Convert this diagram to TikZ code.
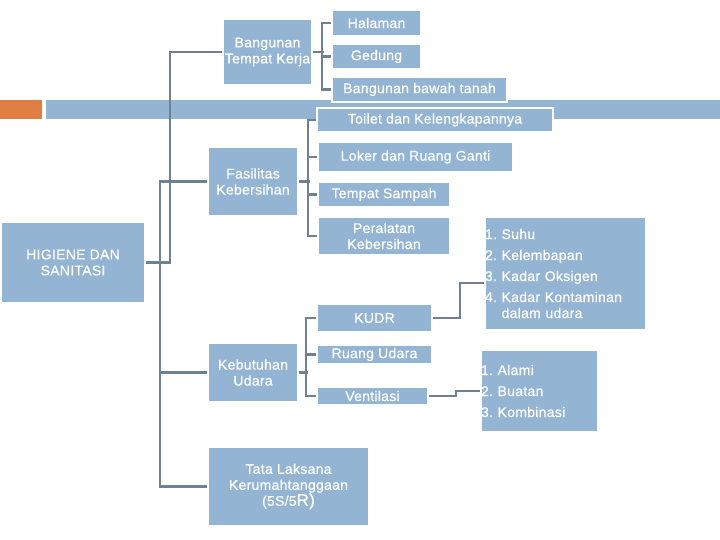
\documentclass[tikz,border=0pt]{standalone}
\usepackage{fontspec}
\setmainfont{Liberation Sans}[LetterSpace=2.0,FakeBold=0.6]
\usetikzlibrary{calc}
\definecolor{boxblue}{HTML}{94B4D4}
\definecolor{linegray}{HTML}{6F8093}
\definecolor{accentorange}{HTML}{DE7E42}
\tikzset{
  bx/.style={rectangle, fill=boxblue, draw=white, line width=1.5pt, text=white,
    inner sep=0pt, align=center, font=\fontsize{14}{16}\selectfont},
  conn/.style={draw=linegray, line width=2.4pt},
}
\frenchspacing
\begin{document}
\begin{tikzpicture}[x=1pt,y=-1pt]
\useasboundingbox (0,0) rectangle (720,540);
% header band
\fill[accentorange] (0,100) rectangle (42,119);
\fill[boxblue] (46,100) rectangle (720,119);
% nodes
\node[bx, minimum width=89, minimum height=26] (hal) at (376.5,23) {Halaman};
\node[bx, minimum width=89, minimum height=25] (ged) at (376.5,56.5) {Gedung};
\node[bx, minimum width=175, minimum height=25] (bwt) at (419.5,89.5) {Bangunan bawah tanah};
\node[bx, minimum width=89, minimum height=66] (btk) at (267.5,52) {Bangunan\\Tempat Kerja};
\node[bx, minimum width=236, minimum height=24] (toi) at (435,120) {Toilet dan Kelengkapannya};
\node[bx, minimum width=195, minimum height=30] (lok) at (415.5,157) {Loker dan Ruang Ganti};
\node[bx, minimum width=90, minimum height=69] (fas) at (253,181.5) {Fasilitas\\Kebersihan};
\node[bx, minimum width=132, minimum height=25] (tem) at (384,194.5) {Tempat Sampah};
\node[bx, minimum width=132, minimum height=38] (per) at (384,236) {Peralatan\\Kebersihan};
\node[bx, minimum width=144, minimum height=81] (hig) at (73,262.5) {HIGIENE DAN\\SANITASI};
\node[bx, minimum width=115, minimum height=28] (kudr) at (374.5,318) {KUDR};
\node[bx, minimum width=115, minimum height=19] (ru) at (374.5,354.5) {Ruang Udara};
\node[bx, minimum width=111, minimum height=18] (ven) at (372.5,396) {Ventilasi};
\node[bx, minimum width=90, minimum height=59] (keb) at (253,372.5) {Kebutuhan\\Udara};
\node[bx, minimum width=161, minimum height=79] (tata) at (288.5,486.5)
  {Tata Laksana\\Kerumahtanggaan\\(5S/5{\fontsize{17}{16}\selectfont R)}};
\node[bx, minimum width=161, minimum height=113, text width=161, align=left] (l1) at (565.5,273.5)
  {1. Suhu\\[5pt]2. Kelembapan\\[5pt]3. Kadar Oksigen\\[5pt]4. Kadar Kontaminan\\\hphantom{4. }dalam udara};
\node[bx, minimum width=117, minimum height=82, text width=117, align=left] (l2) at (539.5,391)
  {1. Alami\\[5pt]2. Buatan\\[5pt]3. Kombinasi};
% connectors
\draw[conn] (btk.east) -- ++(11,0);
\draw[conn] (hal.west) -- ++(-9,0) |- (bwt.west);
\draw[conn] (ged.west) -- ++(-9,0);
\draw[conn] (fas.east) -- ++(11,0);
\draw[conn] (toi.west) -- ++(-8,0) |- (per.west);
\draw[conn] (lok.west) -- ++(-9,0);
\draw[conn] (tem.west) -- ++(-9,0);
\draw[conn] (keb.east) -- ++(9,0);
\draw[conn] (kudr.west) -- ++(-10,0) |- (ven.west);
\draw[conn] (ru.west) -- ++(-10,0);
\draw[conn] (kudr.east) -- ++(27,0) |- ($(l1.west)+(0,9.5)$);
\draw[conn] (ven.east) -- ++(27,0) |- (l2.west);
\draw[conn] (hig.east) -- ++(24,0) |- (btk.west);
\draw[conn] (fas.west) -- ++(-47,0) |- (tata.west);
\draw[conn] (keb.west) -- ++(-47,0);
\end{tikzpicture}
\end{document}
